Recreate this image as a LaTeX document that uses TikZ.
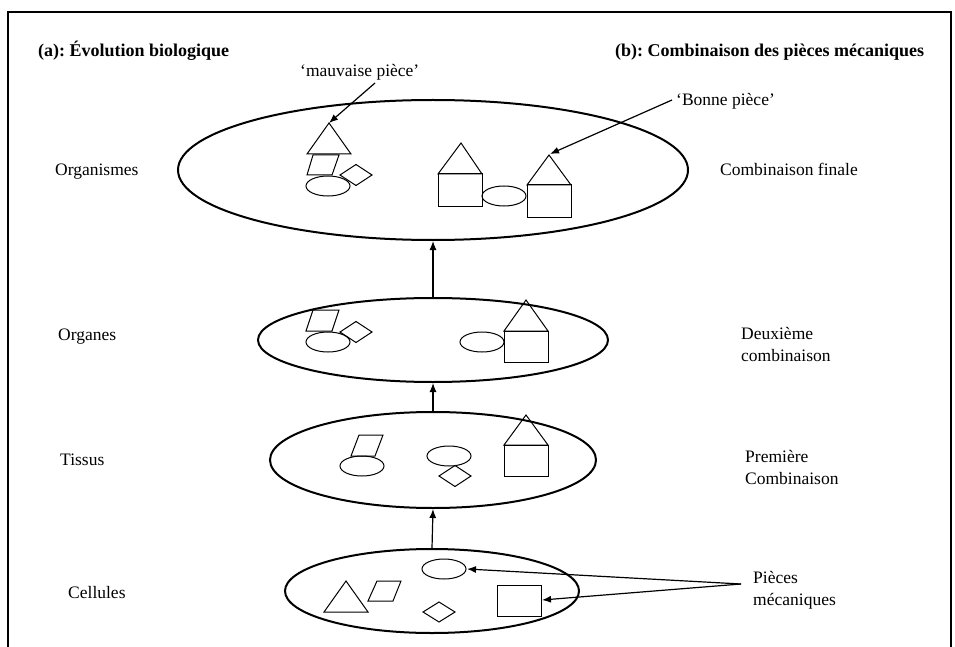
\documentclass[tikz,border=0pt]{standalone}
\usepackage{fontspec}
\setmainfont{Liberation Serif}
\usetikzlibrary{arrows.meta,shapes.geometric}
\frenchspacing
\begin{document}
\begin{tikzpicture}[x=1pt,y=-1pt,
  big/.style={draw, line width=2pt, ellipse, inner sep=0pt},
  part/.style={draw, line width=1pt, line join=miter},
  lbl/.style={font=\fontsize{17.5}{22}\selectfont, inner sep=0pt, anchor=base west, align=left},
  hdr/.style={font=\bfseries\fontsize{18}{22}\selectfont, inner sep=0pt, anchor=base west},
  arr/.style={line width=1.2pt, -{Latex[length=9pt,width=7pt]}},
]
\useasboundingbox (0,0) rectangle (955,647);
\draw[line width=2pt] (8,647) -- (8,12) -- (951,12) -- (951,647);

% headers
\node[hdr] (ha) at (38,57) {(a): Évolution biologique};
\node[hdr] (hb) at (615,57) {(b): Combinaison des pièces mécaniques};

% big ellipses
\node[big, minimum width=510pt, minimum height=140pt] (e1) at (433,170) {};
\node[big, minimum width=350pt, minimum height=84pt] (e2) at (433,340) {};
\node[big, minimum width=326pt, minimum height=96pt] (e3) at (433,460) {};
\node[big, minimum width=294pt, minimum height=84pt] (e4) at (432,591) {};

\draw[arr] (e4.north) -- (e3.south);
\draw[arr] (e3.north) -- (e2.south);
\draw[arr] (e2.north) -- (e1.south);

% left labels
\node[lbl] (l1) at (55,176) {Organismes};
\node[lbl] (l2) at (58,340) {Organes};
\node[lbl] (l3) at (60,465) {Tissus};
\node[lbl] (l4) at (68,598) {Cellules};

% right labels (base anchor = last line)
\node[lbl] (r1) at (720,176) {Combinaison finale};
\node[lbl] (r2) at (741,361) {Deuxième\\combinaison};
\node[lbl] (r3) at (745,484) {Première\\Combinaison};
\node[lbl] (r4) at (753,605) {Pièces\\mécaniques};

\node[lbl] (mv) at (300,77) {‘mauvaise pièce’};
\node[lbl] (bp) at (676,106) {‘Bonne pièce’};

% ---- level 1 shapes
\draw[part] (329,123) -- (307,154) -- (351,154) -- cycle;
\draw[part] (313,155) -- (339,155) -- (332,175) -- (307,175) -- cycle;
\draw[part] (340,175) -- (356,164.5) -- (372,175) -- (356,185.5) -- cycle;
\draw[part] (328,186) ellipse [x radius=22pt, y radius=10pt];
\draw[part] (461,143) -- (438,174) -- (482,174) -- cycle;
\draw[part] (438,174) rectangle (482,206);
\draw[part] (504,196) ellipse [x radius=22pt, y radius=10pt];
\draw[part] (549,155) -- (527,185) -- (571,185) -- cycle;
\draw[part] (527,185) rectangle (571,217);

% ---- level 2 shapes
\draw[part] (313,310) -- (339,310) -- (332,331) -- (306,331) -- cycle;
\draw[part] (340,332) -- (356,321.5) -- (372,332) -- (356,342.5) -- cycle;
\draw[part] (328,342) ellipse [x radius=22pt, y radius=10pt];
\draw[part] (482,342) ellipse [x radius=22pt, y radius=10pt];
\draw[part] (526,300) -- (504,331) -- (548,331) -- cycle;
\draw[part] (504,331) rectangle (548,362);

% ---- level 3 shapes
\draw[part] (359,435) -- (383,435) -- (375,456) -- (351,456) -- cycle;
\draw[part] (362,466) ellipse [x radius=22pt, y radius=10pt];
\draw[part] (449,456) ellipse [x radius=22pt, y radius=10pt];
\draw[part] (439,476) -- (455,465.5) -- (471,476) -- (455,486.5) -- cycle;
\draw[part] (526,415) -- (504,445) -- (548,445) -- cycle;
\draw[part] (504,445) rectangle (548,476);

% ---- level 4 shapes
\draw[part] (346,581) -- (324,612) -- (368,612) -- cycle;
\draw[part] (377,581) -- (401,581) -- (393,601) -- (368,601) -- cycle;
\draw[part] (444,569) ellipse [x radius=22pt, y radius=10pt];
\draw[part] (423,612) -- (439,602) -- (455,612) -- (439,622) -- cycle;
\draw[part] (497,585) rectangle (541,616);

% arrow end points
\coordinate (mstart) at (375,83);
\coordinate (mtip) at (329,123);
\coordinate (bstart) at (672,100);
\coordinate (btip) at (550,154);
\coordinate (pstart) at (741,584);
\coordinate (ptip1) at (467,569);
\coordinate (ptip2) at (542,600);

\draw[arr] (mstart) -- (mtip);
\draw[arr] (bstart) -- (btip);
\draw[arr] (pstart) -- (ptip1);
\draw[arr] (pstart) -- (ptip2);
\end{tikzpicture}
\end{document}
